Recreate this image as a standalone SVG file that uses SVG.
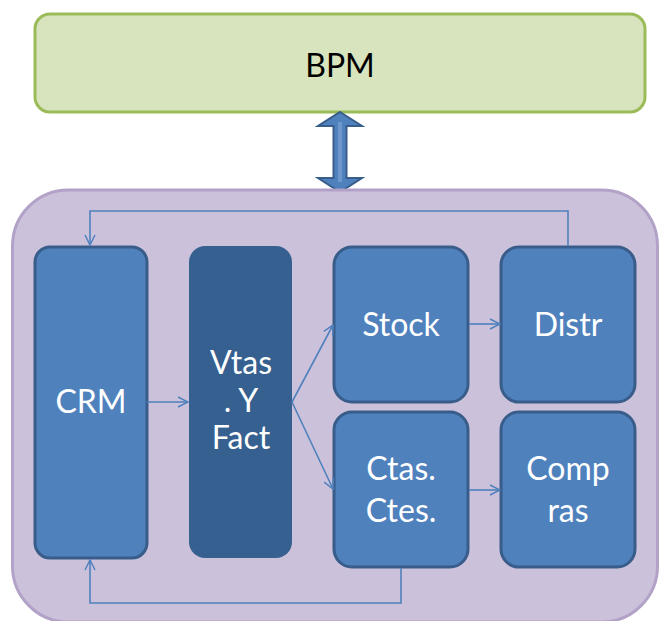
<svg xmlns="http://www.w3.org/2000/svg" width="659" height="621" viewBox="0 0 659 621">
  <defs>
    <marker id="open" viewBox="0 0 12 12" refX="11" refY="6" markerWidth="12" markerHeight="12" markerUnits="userSpaceOnUse" orient="auto">
      <path d="M1,1 L11,6 L1,11" fill="none" stroke="#4F81BD" stroke-width="1.5"/>
    </marker>
  </defs>
  <style>
    .box { fill: #4F81BD; stroke: #385D8A; stroke-width: 3; }
    .dark { fill: #36608F; stroke: none; }
    .lbl { font-family: Lato, "Open Sans", "Liberation Sans", sans-serif; font-size: 32px; fill: #FFFFFF; text-anchor: middle; }
    .conn { fill: none; stroke: #4F81BD; stroke-width: 1.6; marker-end: url(#open); }
  </style>
  <rect width="659" height="621" fill="#FFFFFF"/>

  <g id="bpm">
    <rect x="35" y="14" width="610" height="98" rx="15" fill="#D7E4BD" stroke="#9BBB59" stroke-width="3"/>
    <text x="340" y="77" class="lbl" style="fill:#000000">BPM</text>
  </g>

  <g id="link">
    <polygon points="340,112 362,126 346.5,126 346.5,178 362,178 340,192 318,178 333.5,178 333.5,126 318,126" fill="#4F81BD" stroke="#385D8A" stroke-width="2" stroke-linejoin="miter"/>
    <line x1="340" y1="122" x2="340" y2="182" stroke="#6E98CC" stroke-width="4"/>
  </g>

  <g id="system">
    <rect x="12.5" y="190" width="645" height="432" rx="56" fill="#CCC1DA" stroke="#B3A2C7" stroke-width="3"/>
  </g>

  <g id="crm">
    <rect x="35" y="247" width="112" height="311" rx="15" class="box"/>
    <text x="91" y="413" class="lbl">CRM</text>
  </g>

  <g id="vtas">
    <rect x="189" y="246" width="103" height="312" rx="16" class="dark"/>
    <text x="241" y="374" class="lbl">Vtas</text>
    <text x="241" y="412" class="lbl">. Y</text>
    <text x="241" y="449" class="lbl">Fact</text>
  </g>

  <g id="stock">
    <rect x="334" y="247" width="134" height="155" rx="18" class="box"/>
    <text x="401" y="336" class="lbl">Stock</text>
  </g>

  <g id="distr">
    <rect x="501" y="247" width="134" height="155" rx="18" class="box"/>
    <text x="568" y="336" class="lbl">Distr</text>
  </g>

  <g id="ctas">
    <rect x="334" y="412" width="134" height="155" rx="18" class="box"/>
    <text x="401" y="480" class="lbl">Ctas.</text>
    <text x="401" y="522" class="lbl">Ctes.</text>
  </g>

  <g id="compras">
    <rect x="501" y="412" width="134" height="155" rx="18" class="box"/>
    <text x="568" y="480" class="lbl">Comp</text>
    <text x="568" y="522" class="lbl">ras</text>
  </g>

  <g id="connectors">
    <path class="conn" d="M147,402 L188,402"/>
    <path class="conn" d="M292,402 L333,325"/>
    <path class="conn" d="M292,402 L333,489"/>
    <path class="conn" d="M469,324 L500,324"/>
    <path class="conn" d="M469,490 L500,490"/>
    <path class="conn" d="M568,246 L568,211 L90,211 L90,245"/>
    <path class="conn" d="M401,568 L401,603 L90,603 L90,560"/>
  </g>
</svg>
